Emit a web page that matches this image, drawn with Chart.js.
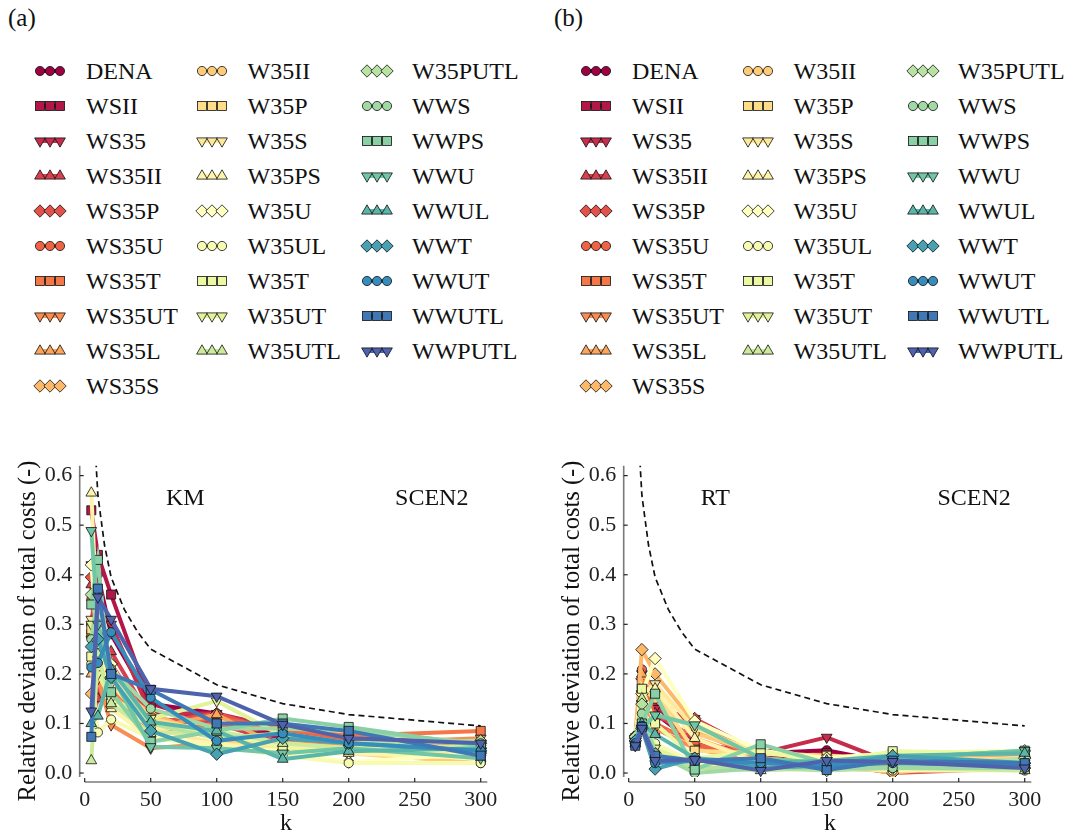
<!DOCTYPE html>
<html><head><meta charset="utf-8">
<script src="https://cdn.jsdelivr.net/npm/chart.js@4.4.1/dist/chart.umd.min.js"></script>
<style>
html,body{margin:0;padding:0;background:#fff;}
body{width:1092px;height:838px;position:relative;overflow:hidden;font-family:"Liberation Serif",serif;color:#111;}
.plabel{position:absolute;font-size:25px;line-height:25px;}
.legtxt{position:absolute;font-size:24px;line-height:24px;white-space:nowrap;}
.legsvg{position:absolute;}
canvas{position:absolute;}
</style></head><body>
<div class="plabel" style="left:8px;top:5px">(a)</div>
<div class="plabel" style="left:554px;top:5px">(b)</div>
<div id="legA"></div><div id="legB"></div>
<canvas id="cA" width="546" height="398" style="left:0;top:440px"></canvas>
<canvas id="cB" width="546" height="398" style="left:546px;top:440px"></canvas>
<script>
// ---------------- DATA ----------------
const kValues = [5, 10, 20, 50, 100, 150, 200, 300];
const seriesNames = ['DENA','WSII','WS35','WS35II','WS35P','WS35U','WS35T','WS35UT','WS35L','WS35S',
  'W35II','W35P','W35S','W35PS','W35U','W35UL','W35T','W35UT','W35UTL','W35PUTL',
  'WWS','WWPS','WWU','WWUL','WWT','WWUT','WWUTL','WWPUTL'];
const xTicks = [0, 50, 100, 150, 200, 250, 300];
const xTickLabels = ['0','50','100','150','200','250','300'];
const yTicks = [0, 0.1, 0.2, 0.3, 0.4, 0.5, 0.6];
const yTickLabels = ['0.0','0.1','0.2','0.3','0.4','0.5','0.6'];
const boundK = [5, 10, 15, 20, 30, 40, 50, 100, 150, 200, 300];
const boundValues = [0.79, 0.56, 0.46, 0.395, 0.33, 0.285, 0.25, 0.178, 0.14, 0.118, 0.095];

// Panel (a): KM, SCEN2
const km_DENA    = [0.30, 0.40, 0.28, 0.14, 0.12, 0.07, 0.06, 0.05];
const km_WSII    = [0.53, 0.44, 0.36, 0.14, 0.10, 0.07, 0.065, 0.055];
const km_WS35    = [0.42, 0.33, 0.30, 0.12, 0.12, 0.09, 0.07, 0.06];
const km_WS35II  = [0.38, 0.15, 0.245, 0.11, 0.10, 0.06, 0.06, 0.05];
const km_WS35P   = [0.395, 0.30, 0.22, 0.10, 0.12, 0.08, 0.07, 0.06];
const km_WS35U   = [0.35, 0.28, 0.20, 0.09, 0.113, 0.085, 0.065, 0.06];
const km_WS35T   = [0.28, 0.20, 0.17, 0.08, 0.10, 0.09, 0.075, 0.085];
const km_WS35UT  = [0.27, 0.19, 0.097, 0.05, 0.06, 0.06, 0.06, 0.07];
const km_WS35L   = [0.20, 0.21, 0.16, 0.09, 0.118, 0.05, 0.055, 0.065];
const km_WS35S   = [0.16, 0.25, 0.18, 0.12, 0.07, 0.05, 0.05, 0.05];
const km_W35II   = [0.30, 0.23, 0.15, 0.11, 0.07, 0.05, 0.04, 0.02];
const km_W35P    = [0.29, 0.24, 0.20, 0.11, 0.08, 0.06, 0.05, 0.03];
const km_W35S    = [0.31, 0.22, 0.18, 0.09, 0.06, 0.05, 0.045, 0.04];
const km_W35PS   = [0.565, 0.27, 0.13, 0.07, 0.06, 0.04, 0.04, 0.03];
const km_W35U    = [0.42, 0.26, 0.22, 0.08, 0.05, 0.045, 0.022, 0.04];
const km_W35UL   = [0.22, 0.082, 0.108, 0.07, 0.055, 0.035, 0.02, 0.02];
const km_W35T    = [0.235, 0.21, 0.14, 0.095, 0.08, 0.053, 0.05, 0.045];
const km_W35UT   = [0.30, 0.20, 0.15, 0.11, 0.145, 0.075, 0.06, 0.05];
const km_W35UTL  = [0.025, 0.24, 0.14, 0.08, 0.085, 0.06, 0.05, 0.055];
const km_W35PUTL = [0.36, 0.29, 0.19, 0.10, 0.07, 0.08, 0.06, 0.065];
const km_WWS     = [0.27, 0.36, 0.21, 0.13, 0.09, 0.09, 0.085, 0.06];
const km_WWPS    = [0.34, 0.43, 0.163, 0.063, 0.085, 0.11, 0.093, 0.055];
const km_WWU     = [0.489, 0.30, 0.20, 0.053, 0.05, 0.04, 0.05, 0.03];
const km_WWUL    = [0.10, 0.115, 0.21, 0.103, 0.085, 0.028, 0.044, 0.05];
const km_WWT     = [0.255, 0.27, 0.193, 0.085, 0.038, 0.07, 0.06, 0.045];
const km_WWUT    = [0.213, 0.222, 0.284, 0.152, 0.065, 0.08, 0.06, 0.045];
const km_WWUTL   = [0.073, 0.372, 0.20, 0.168, 0.10, 0.10, 0.085, 0.035];
const km_WWPUTL  = [0.125, 0.355, 0.31, 0.17, 0.155, 0.098, 0.07, 0.06];

// Panel (b): RT, SCEN2
const rt_DENA    = [0.06, 0.19, 0.12, 0.06, 0.04, 0.046, 0.02, 0.02];
const rt_WSII    = [0.06, 0.18, 0.14, 0.05, 0.03, 0.04, 0.01, 0.01];
const rt_WS35    = [0.07, 0.20, 0.13, 0.11, 0.04, 0.072, 0.02, 0.04];
const rt_WS35II  = [0.06, 0.17, 0.12, 0.07, 0.02, 0.03, 0.01, 0.02];
const rt_WS35P   = [0.07, 0.19, 0.11, 0.11, 0.03, 0.02, 0.0, 0.01];
const rt_WS35U   = [0.065, 0.209, 0.10, 0.06, 0.02, 0.01, 0.005, 0.02];
const rt_WS35T   = [0.07, 0.18, 0.085, 0.085, 0.03, 0.02, 0.01, 0.03];
const rt_WS35UT  = [0.06, 0.16, 0.09, 0.05, 0.02, 0.015, 0.01, 0.02];
const rt_WS35L   = [0.07, 0.20, 0.17, 0.07, 0.025, 0.02, 0.015, 0.025];
const rt_WS35S   = [0.075, 0.249, 0.20, 0.10, 0.03, 0.02, 0.0, 0.03];
const rt_W35II   = [0.065, 0.17, 0.15, 0.08, 0.04, 0.035, 0.02, 0.03];
const rt_W35P    = [0.07, 0.17, 0.16, 0.045, 0.04, 0.035, 0.03, 0.03];
const rt_W35S    = [0.065, 0.16, 0.18, 0.09, 0.04, 0.03, 0.04, 0.045];
const rt_W35PS   = [0.07, 0.165, 0.17, 0.07, 0.02, 0.03, 0.035, 0.04];
const rt_W35U    = [0.075, 0.16, 0.231, 0.105, 0.045, 0.03, 0.04, 0.045];
const rt_W35UL   = [0.07, 0.12, 0.06, 0.02, 0.01, 0.01, 0.005, 0.005];
const rt_W35T    = [0.065, 0.17, 0.10, 0.03, 0.045, 0.02, 0.044, 0.04];
const rt_W35UT   = [0.06, 0.14, 0.05, 0.015, 0.01, 0.015, 0.02, 0.01];
const rt_W35UTL  = [0.07, 0.15, 0.03, 0.01, 0.005, 0.01, 0.01, 0.005];
const rt_W35PUTL = [0.073, 0.139, 0.04, 0.01, 0.01, 0.005, 0.01, 0.03];
const rt_WWS     = [0.065, 0.12, 0.04, 0.0, 0.01, 0.01, 0.01, 0.01];
const rt_WWPS    = [0.06, 0.10, 0.16, 0.007, 0.058, 0.02, 0.03, 0.045];
const rt_WWU     = [0.06, 0.09, 0.117, 0.097, 0.03, 0.02, 0.03, 0.045];
const rt_WWUL    = [0.065, 0.10, 0.078, 0.03, 0.02, 0.025, 0.035, 0.04];
const rt_WWT     = [0.065, 0.09, 0.008, 0.03, 0.01, 0.015, 0.035, 0.02];
const rt_WWUT    = [0.06, 0.095, 0.02, 0.025, 0.02, 0.015, 0.02, 0.015];
const rt_WWUTL   = [0.055, 0.093, 0.035, 0.025, 0.03, 0.006, 0.025, 0.02];
const rt_WWPUTL  = [0.055, 0.09, 0.025, 0.027, 0.005, 0.025, 0.023, 0.01];

const kmSeries = [km_DENA, km_WSII, km_WS35, km_WS35II, km_WS35P, km_WS35U, km_WS35T, km_WS35UT, km_WS35L, km_WS35S,
  km_W35II, km_W35P, km_W35S, km_W35PS, km_W35U, km_W35UL, km_W35T, km_W35UT, km_W35UTL, km_W35PUTL,
  km_WWS, km_WWPS, km_WWU, km_WWUL, km_WWT, km_WWUT, km_WWUTL, km_WWPUTL];
const rtSeries = [rt_DENA, rt_WSII, rt_WS35, rt_WS35II, rt_WS35P, rt_WS35U, rt_WS35T, rt_WS35UT, rt_WS35L, rt_WS35S,
  rt_W35II, rt_W35P, rt_W35S, rt_W35PS, rt_W35U, rt_W35UL, rt_W35T, rt_W35UT, rt_W35UTL, rt_W35PUTL,
  rt_WWS, rt_WWPS, rt_WWU, rt_WWUL, rt_WWT, rt_WWUT, rt_WWUTL, rt_WWPUTL];

// ---------------- STYLE ----------------
const FONT = '"Liberation Serif", "Times New Roman", serif';
const spectralStops = ['#9e0142','#d53e4f','#f46d43','#fdae61','#fee08b','#ffffbf','#e6f598','#abdda4','#66c2a5','#3288bd','#5e4fa2'];
function hexToRgb(h){return [1,3,5].map(i=>parseInt(h.substr(i,2),16));}
function spectral(t){
  const p=t*(spectralStops.length-1); const i=Math.min(spectralStops.length-2,Math.floor(p)); const f=p-i;
  const a=hexToRgb(spectralStops[i]), b=hexToRgb(spectralStops[i+1]);
  const c=a.map((v,j)=>Math.round(v+(b[j]-v)*f));
  return 'rgb('+c.join(',')+')';
}
const N = seriesNames.length;
const colors = seriesNames.map((_,i)=>spectral(i/N));
const markerCycle = [
  {style:'circle', rot:0, r:4.6},
  {style:'rect', rot:0, r:6.4},
  {style:'triangle', rot:180, r:6.2},
  {style:'triangle', rot:0, r:6.2},
  {style:'rectRot', rot:0, r:6.2}
];
const markerOf = i => markerCycle[i % markerCycle.length];

// ---------------- LEGEND (HTML) ----------------
function markerSvg(m, cx, cy, col){
  const s='stroke="#111" stroke-width="0.8" fill="'+col+'"';
  if(m.style==='circle') return '<circle cx="'+cx+'" cy="'+cy+'" r="'+m.r+'" '+s+'/>';
  if(m.style==='rect'){const h=m.r*Math.SQRT1_2;return '<rect x="'+(cx-h)+'" y="'+(cy-h)+'" width="'+2*h+'" height="'+2*h+'" '+s+'/>';}
  if(m.style==='rectRot'){const r=m.r;return '<polygon points="'+(cx-r)+','+cy+' '+cx+','+(cy-r)+' '+(cx+r)+','+cy+' '+cx+','+(cy+r)+'" '+s+'/>';}
  const r=m.r, sg = m.rot===180?-1:1;
  const pts=[[0,-r],[r*0.866,r*0.5],[-r*0.866,r*0.5]].map(p=>(cx+p[0])+','+(cy+sg*p[1])).join(' ');
  return '<polygon points="'+pts+'" '+s+'/>';
}
function buildLegend(el, offsetX){
  const colMarker=[40,202,367], colText=[86,247.5,412];
  let html='';
  seriesNames.forEach((name,i)=>{
    const col = i<10?0:(i<19?1:2);
    const row = i<10?i:(i<19?i-10:i-19);
    const cy = 70.7 + 35*row;
    const m = markerOf(i);
    const x0 = offsetX + colMarker[col] - 10;
    let svg='<svg class="legsvg" width="44" height="24" style="left:'+x0+'px;top:'+(cy-12)+'px">';
    svg+='<line x1="10" y1="12" x2="30" y2="12" stroke="'+colors[i]+'" stroke-width="4"/>';
    [10,20,30].forEach(x=>{svg+=markerSvg(m,x,12,colors[i]);});
    svg+='</svg>';
    html+=svg+'<div class="legtxt" style="left:'+(offsetX+colText[col])+'px;top:'+(cy-12.2)+'px">'+name+'</div>';
  });
  el.innerHTML=html;
}
buildLegend(document.getElementById('legA'),0);
buildLegend(document.getElementById('legB'),546);

// ---------------- CHARTS ----------------
const spinePlugin = {
  id:'spines',
  afterDraw(chart, args, opts){
    const {ctx, chartArea:{left,right,top,bottom}, scales:{x,y}} = chart;
    ctx.save();
    const sx = left-5, sy = bottom+5;
    ctx.strokeStyle='#7a7a7a'; ctx.lineWidth=1.6;
    ctx.beginPath(); ctx.moveTo(sx,top); ctx.lineTo(sx,bottom); ctx.stroke();
    ctx.beginPath(); ctx.moveTo(left,sy); ctx.lineTo(right,sy); ctx.stroke();
    ctx.strokeStyle='#222'; ctx.lineWidth=1.2;
    y.ticks.forEach(t=>{const py=y.getPixelForValue(t.value);ctx.beginPath();ctx.moveTo(sx,py);ctx.lineTo(sx+4,py);ctx.stroke();});
    x.ticks.forEach(t=>{const px=x.getPixelForValue(t.value);ctx.beginPath();ctx.moveTo(px,sy);ctx.lineTo(px,sy-4);ctx.stroke();});
    ctx.fillStyle='#111'; ctx.font='24px '+FONT; ctx.textAlign='center'; ctx.textBaseline='middle';
    (opts.texts||[]).forEach(a=>{ctx.fillText(a.text, left+(right-left)*a.fx, top+(bottom-top)*a.fy);});
    // y axis title
    ctx.save();
    ctx.translate(opts.yTitleX, 191);
    ctx.rotate(-Math.PI/2);
    ctx.font='24.5px '+FONT;
    ctx.fillText('Relative deviation of total costs (-)', 0, 0);
    ctx.restore();
    ctx.restore();
  }
};

function makeChart(canvasId, seriesVals, yAxisWidth, rightPad, texts){
  const datasets = seriesVals.map((vals,i)=>{
    const m = markerOf(i);
    return {
      label: seriesNames[i],
      data: kValues.map((k,j)=>({x:k, y:vals[j]})),
      borderColor: colors[i], backgroundColor: colors[i], borderWidth: 4,
      pointStyle: m.style, pointRotation: m.rot, pointRadius: m.r,
      pointBackgroundColor: colors[i], pointBorderColor:'#111', pointBorderWidth:0.8,
      tension: 0, order: N - i + 1
    };
  });
  datasets.push({
    label:'bound', data: boundK.map((k,j)=>({x:k,y:boundValues[j]})),
    borderColor:'#111', borderWidth:1.7, borderDash:[6,4], pointRadius:0, tension:0, order:0
  });
  return new Chart(document.getElementById(canvasId), {
    type:'line',
    data:{datasets},
    options:{
      responsive:false, animation:false, devicePixelRatio:1,
      layout:{padding:{left:0, right:rightPad, top:24.9, bottom:0}},
      plugins:{legend:{display:false}, tooltip:{enabled:false}, spines:{texts, yTitleX: yAxisWidth-56.5}},
      scales:{
        x:{type:'linear', min:0, max:305,
          afterBuildTicks:s=>{s.ticks = xTicks.map(v=>({value:v}));},
          afterFit:s=>{s.height=61;},
          grid:{display:false, drawTicks:false}, border:{display:false},
          ticks:{padding:10, color:'#222', font:{family:FONT,size:22}, maxRotation:0, callback:(v,i)=>xTickLabels[i]},
          title:{display:true, text:'k', color:'#111', font:{family:FONT,size:24}, padding:{top:0,bottom:0}}
        },
        y:{type:'linear', min:-0.008, max:0.62,
          afterBuildTicks:s=>{s.ticks = yTicks.map(v=>({value:v}));},
          afterFit:s=>{s.width=yAxisWidth;},
          grid:{display:false, drawTicks:false}, border:{display:false},
          ticks:{padding:12.5, color:'#222', font:{family:FONT,size:22}, callback:(v,i)=>yTickLabels[i]},
          title:{display:false}
        }
      }
    },
    plugins:[spinePlugin]
  });
}
makeChart('cA', kmSeries, 84.7, 58.7, [{text:'KM', fx:0.25, fy:0.105},{text:'SCEN2', fx:0.862, fy:0.105}]);
makeChart('cB', rtSeries, 82.7, 60.7, [{text:'RT', fx:0.215, fy:0.105},{text:'SCEN2', fx:0.858, fy:0.105}]);
</script>
</body></html>
